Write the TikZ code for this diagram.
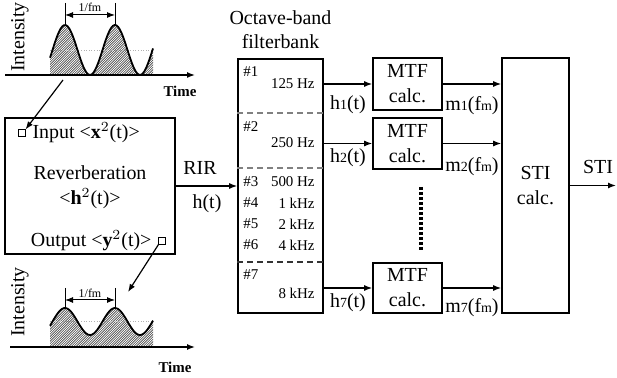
\documentclass[tikz,border=0pt]{standalone}
\usepackage{fontspec}
\setmainfont{Liberation Serif}
\usetikzlibrary{arrows.meta}
\tikzset{
  block/.style = {draw, line width=0.8pt, inner sep=0pt, align=center},
  port/.style  = {draw, line width=0.6pt, minimum size=#1,
                  inner sep=0pt, outer sep=0pt},
  port/.default = 3.5bp,
  hatchline/.style = {black!75, line width=0.3pt},
  band/.style  = {font=\fontsize{7.5}{9}\selectfont, inner sep=0pt},
  tiny/.style  = {font=\fontsize{6}{7}\selectfont, inner sep=0pt}
}

\begin{document}
\begin{tikzpicture}[x=0.5bp, y=-0.5bp, >={Latex[length=4bp,width=3bp]},
                    font=\fontsize{10}{12.5}\selectfont]
	\useasboundingbox (0,0) rectangle (617,378);
	\def \fbx{280.5}  % centre of the filterbank
	\def \mx{407.5}   % centre of the MTF blocks
	
	% Input intensity
	\begin{scope}
		\clip (50,75) -- plot[domain=50:153, samples=60] (\x,{50-25*cos(7.2*(\x-65))}) -- (153,75) -- cycle;
		\foreach \k in {-30,-27.6,...,160} \draw[hatchline] (\k,75) -- ++(75,-75);
	\end{scope}
	\draw[gray!60, densely dotted, line width=0.3pt] (50,50) -- (153,50);
	\draw[line width=0.9pt] plot[domain=50:153, samples=60] (\x,{50-25*cos(7.2*(\x-65))});
	\draw[->, line width=0.7pt] (5,75) -- (195,75);
	\draw[line width=0.5pt] (65,3) -- (65,25);
	\draw[line width=0.5pt] (115,3) -- (115,25);
	\draw[<->, line width=0.5pt] (65,15) -- (115,15);
	\node[tiny] (inper) at (90,7) {1/fm};
	\node[rotate=90] (iny) at (20,37) {Intensity};
	\node[font=\fontsize{7.5}{9}\selectfont\bfseries] (inx) at (180,91) {Time};
	\coordinate (intop) at (63,80);
	
	% Room
	\node[block, line width=1.1pt, minimum width=85bp, minimum height=68bp] (room) at (90,186) {};
	\node[align=center] (rev) at (90,187) {Reverberation\\<\textbf{h}$^2$(t)>};
	\node[port] (inp) at (22,133) {};
	\node[anchor=west] (intxt) at (inp.east) {Input <\textbf{x}$^2$(t)>};
	\node[port] (outp) at (162,241) {};
	\node[anchor=east] (outtxt) at (outp.west) {Output <\textbf{y}$^2$(t)>};
	\draw[->, line width=0.6pt] (intop) -- (inp.north east);
	\coordinate (outbot) at (128,292);
	\draw[->, line width=0.6pt] (outp.south west) -- (outbot);
	
	% Output intensity
	\begin{scope}
		\clip (50,347) -- plot[domain=50:153, samples=60] (\x,{321.5-13.5*cos(7.2*(\x-65))}) -- (153,347) -- cycle;
		\foreach \k in {-30,-27.6,...,160} \draw[hatchline] (\k,347) -- ++(75,-75);
	\end{scope}
	\draw[gray!60, densely dotted, line width=0.3pt] (50,321) -- (153,321);
	\draw[line width=0.9pt] plot[domain=50:153, samples=60] (\x,{321.5-13.5*cos(7.2*(\x-65))});
	\draw[->, line width=0.7pt] (10,347) -- (195,347);
	\draw[line width=0.5pt] (65,288) -- (65,308);
	\draw[line width=0.5pt] (115,288) -- (115,308);
	\draw[<->, line width=0.5pt] (65,300) -- (115,300);
	\node[tiny] (outper) at (90,293) {1/fm};
	\node[rotate=90] (outy) at (20,302) {Intensity};
	\node[font=\fontsize{7.5}{9}\selectfont\bfseries] (outx) at (175,367) {Time};
	
	% Filterbank
	\node[align=center, font=\fontsize{10}{12}\selectfont] (fbname) at (\fbx,30) {Octave-band\\filterbank};
	\node[block, minimum width=42.5bp, minimum height=127bp] (fb) at (\fbx,186) {};
	\draw[gray, dash pattern=on 3bp off 2bp, line width=0.6pt] (fb.west |- 0,113) -- (fb.east |- 0,113);
	\draw[gray, dash pattern=on 3bp off 2bp, line width=0.6pt] (fb.west |- 0,168) -- (fb.east |- 0,168);
	\draw[black!80, dash pattern=on 3bp off 2bp, line width=0.6pt] (fb.west |- 0,262) -- (fb.east |- 0,262);
	\node[band, anchor=west] (n1) at (243,72)  {\#1};
	\node[band, anchor=east] (f1) at (315,84)  {125 Hz};
	\node[band, anchor=west] (n2) at (243,127) {\#2};
	\node[band, anchor=east] (f2) at (315,143) {250 Hz};
	\node[band, anchor=west] (n3) at (243,182) {\#3};
	\node[band, anchor=east] (f3) at (315,182) {500 Hz};
	\node[band, anchor=west] (n4) at (243,203) {\#4};
	\node[band, anchor=east] (f4) at (315,203) {1 kHz};
	\node[band, anchor=west] (n5) at (243,224) {\#5};
	\node[band, anchor=east] (f5) at (315,224) {2 kHz};
	\node[band, anchor=west] (n6) at (243,245) {\#6};
	\node[band, anchor=east] (f6) at (315,245) {4 kHz};
	\node[band, anchor=west] (n7) at (243,275) {\#7};
	\node[band, anchor=east] (f7) at (315,293) {8 kHz};
	
	% RIR
	\draw[->, line width=0.7pt] (room.east) -- (fb.west |- room.east);
	\node (rir) at (200,168) {RIR};
	\node (hrir) at (207,204) {h(t)};
	
	% MTF blocks
	\node[block, minimum width=34.5bp, minimum height=26bp] (mtf1) at (\mx,84) {MTF\\calc.};
	\node[block, minimum width=34.5bp, minimum height=25.5bp] (mtf2) at (\mx,143.5) {MTF\\calc.};
	\node[block, minimum width=34.5bp, minimum height=25bp] (mtf7) at (\mx,288) {MTF\\calc.};
	\draw[line width=2.3bp, dash pattern=on 1.5bp off 1bp] (421,187) -- (421,250);
	
	% STI block
	\node[block, minimum width=33.5bp, minimum height=127.5bp] (sti) at (535.5,185.5) {STI\\calc.};
	
	% Band signals
	\draw[->, line width=0.7pt] (fb.east |- mtf1.west) -- (mtf1.west);
	\draw[->, line width=0.7pt] (fb.east |- mtf2.west) -- (mtf2.west);
	\draw[->, line width=0.7pt] (fb.east |- mtf7.west) -- (mtf7.west);
	\node (h1) at (348,105) {h{\scriptsize 1}(t)};
	\node (h2) at (348,158) {h{\scriptsize 2}(t)};
	\node (h7) at (348,303) {h{\scriptsize 7}(t)};
	
	% Modulation transfer
	\draw[->, line width=0.7pt] (mtf1.east) -- (mtf1.east -| sti.west);
	\draw[->, line width=0.7pt] (mtf2.east) -- (mtf2.east -| sti.west);
	\draw[->, line width=0.7pt] (mtf7.east) -- (mtf7.east -| sti.west);
	\node (m1) at (472,106) {m{\scriptsize 1}(f{\scriptsize m})};
	\node (m2) at (472,167) {m{\scriptsize 2}(f{\scriptsize m})};
	\node (m7) at (472,308) {m{\scriptsize 7}(f{\scriptsize m})};
	
	% Output
	\coordinate (stiout) at (616,185.5);
	\draw[->, line width=0.7pt] (sti.east) -- (stiout);
	\node (stitxt) at (598,167) {STI};
	
\end{tikzpicture}
\end{document}
